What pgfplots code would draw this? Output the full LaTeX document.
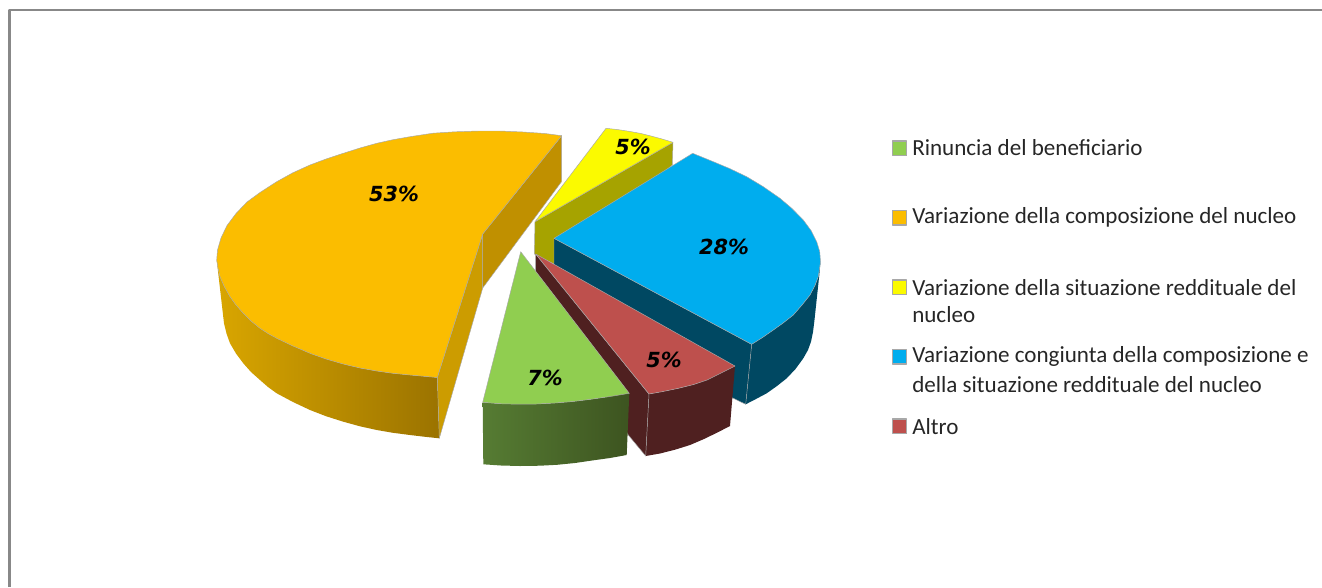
\documentclass[border=0pt]{standalone}
\usepackage{pgfplots}
\pgfplotsset{compat=1.18}
\usepackage{fontspec}
\setmainfont{Carlito}
\newfontfamily\lab{DejaVu Sans}
\definecolor{oT}{HTML}{FBBD00}
\definecolor{oA}{HTML}{CC9C00}
\definecolor{oB}{HTML}{C09000}
\definecolor{oL}{HTML}{D9A600}
\definecolor{oM}{HTML}{BF9000}
\definecolor{oR}{HTML}{9B7300}
\definecolor{yT}{HTML}{FBFA00}
\definecolor{yS}{HTML}{A6A300}
\definecolor{bT}{HTML}{00ADEE}
\definecolor{bS}{HTML}{004862}
\definecolor{rT}{HTML}{BE504D}
\definecolor{rS}{HTML}{4F2020}
\definecolor{gT}{HTML}{90CE50}
\definecolor{gL}{HTML}{567C33}
\definecolor{gR}{HTML}{3D5420}
\definecolor{edge}{HTML}{A8A8A8}
\definecolor{frame}{HTML}{888888}
\begin{document}
\begin{tikzpicture}
\useasboundingbox (0,0) rectangle (991.5pt,440.25pt);
\begin{axis}[
  at={(0,0)},anchor=south west,
  scale only axis,width=991.5pt,height=440.25pt,
  xmin=0,xmax=1322,ymin=0,ymax=587,y dir=reverse,
  hide axis,clip=false,
  every axis plot/.append style={line width=0.35pt,draw=edge,line join=round}]
% frame
\addplot[draw=frame,line width=1.8pt] coordinates {(9.3,587)(9.3,10.2)(1322,10.2)};
% orange side
\addplot[draw=none,left color=oL,middle color=oM,right color=oR] coordinates {
(216.7,260)(218,268)(220,276.7)(224.5,287)(230,296.7)(236,305)(243.3,313.3)(251,321)(260,328.3)(268,333.5)(276.7,338.3)(293,346)(310,353.3)(326,359)(343.3,364)(360,368)(376.7,371)(393,373.3)(410,375)(437.3,377.5)
(439.3,438.3)(425,436.8)(410,435)(393,432.8)(376.7,430)(360,426.3)(343.3,421.7)(326,416.2)(310,410)(293,402)(276.7,393.3)(268,387)(260,380)(251,372)(243.3,363.3)(236,353.5)(230,343.3)(226.5,333.5)(224,323.3)} --cycle;
% orange cut faces
\addplot[fill=oB] coordinates {(482.7,234)(561.7,135.7)(561.5,181.7)(482.7,288)} --cycle;
\addplot[fill=oA] coordinates {(482.7,234)(437.3,377.5)(439.3,438.3)(482.7,288)} --cycle;
% orange top
\addplot[fill=oT] coordinates {(482.7,234)(561.7,135.7)(545,133.5)(523,132)(500,131)(478,131)(455,131.8)(433,133.2)(410,136.7)(393,139.7)(376.7,143.3)(360,148)(343.3,153.3)(326,159)(310,165)(293,172.7)(276.7,181.7)(260,192.5)(247,202)(236,213.5)(227,225.5)(221,238)(217.5,250)(216.7,260)(218,268)(220,276.7)(224.5,287)(230,296.7)(236,305)(243.3,313.3)(251,321)(260,328.3)(268,333.5)(276.7,338.3)(293,346)(310,353.3)(326,359)(343.3,364)(360,368)(376.7,371)(393,373.3)(410,375)(437.3,377.5)} --cycle;
% yellow
\addplot[fill=yS] coordinates {(535,221.7)(673,142.3)(672.3,165)(554,264)(534.3,254)} --cycle;
\addplot[fill=yT] coordinates {(535,221.7)(606,128.3)(617,129.5)(629,131.3)(640,133.3)(651,136)(662,139)(673,142.3)} --cycle;
% blue
\addplot[draw=none,fill=bS] coordinates {(751.7,344.3)(745.7,404.3)(756,399)(766.7,393.3)(777,386)(786.7,378.3)(795.5,369)(803.3,358.3)(808,350)(811,341.7)(813,332)(814.3,321.7)(819.3,275)(820.5,261.7)(818.3,276.5)(815,285.5)(810,295)(802,305)(793.3,315)(783.5,322.7)(773.3,330)(762.5,337.5)} --cycle;
\addplot[fill=bS] coordinates {(554,238.3)(751.7,344.3)(745.7,404.3)(603.3,335)(554,276.7)} --cycle;
\addplot[fill=bT] coordinates {(554,238.3)(692.7,153.3)(713.3,161.7)(730,168.7)(746.7,176.7)(763,186.5)(780,198.3)(792,208.5)(803.3,220)(811,230.5)(816.7,241.7)(819.7,251.5)(820.5,261.7)(818.3,276.5)(815,285.5)(810,295)(802,305)(793.3,315)(783.5,322.7)(773.3,330)(762.5,337.5)(751.7,344.3)} --cycle;
% red
\addplot[draw=none,fill=rS] coordinates {(649,394)(645.7,456)(660,453.5)(675,449.7)(690,445)(704,439)(717,432.7)(730,426)(735,366)(721,373)(707,380)(693.3,384.6)(678,388.4)(662,391.7)} --cycle;
\addplot[fill=rS] coordinates {(535.7,254)(649,394)(645.7,456)(628.3,435)(535.7,271.7)} --cycle;
\addplot[fill=rT] coordinates {(535.7,254)(649,394)(662,391.7)(678,388.4)(693.3,384.6)(707,380)(721,373)(735,366)} --cycle;
% green
\addplot[draw=none,left color=gL,right color=gR] coordinates {(482.7,402.3)(483.3,464.3)(501,465.5)(520,466)(540,465.7)(557,464.8)(575,463)(592,460.5)(610,458)(626.7,455)(629.3,393.3)(610,396.5)(590,399.4)(572,401.6)(555,403)(536.7,404)(518,404.2)(500,403.7)} --cycle;
\addplot[fill=gT] coordinates {(520.7,251.7)(482.7,402.3)(500,403.7)(518,404.2)(536.7,404)(555,403)(572,401.6)(590,399.4)(610,396.5)(629.3,393.3)} --cycle;
% legend swatches
\addplot[fill=gT,draw=edge,line width=0.9pt] coordinates {(892.5,141)(906.5,141)(906.5,155.5)(892.5,155.5)} --cycle;
\addplot[fill=oT,draw=edge,line width=0.9pt] coordinates {(892.5,210.5)(906.5,210.5)(906.5,225)(892.5,225)} --cycle;
\addplot[fill=yT,draw=edge,line width=0.9pt] coordinates {(892.5,280)(906.5,280)(906.5,294.5)(892.5,294.5)} --cycle;
\addplot[fill=bT,draw=edge,line width=0.9pt] coordinates {(892.5,349.5)(906.5,349.5)(906.5,364)(892.5,364)} --cycle;
\addplot[fill=rT,draw=edge,line width=0.9pt] coordinates {(892.5,419)(906.5,419)(906.5,433.5)(892.5,433.5)} --cycle;
% labels
\tikzset{pct/.style={font=\lab\fontsize{15.6}{18}\selectfont\bfseries\itshape,inner sep=0pt},
 lg/.style={font=\fontsize{17.3}{20}\selectfont,anchor=west,inner sep=0pt,text=black!85}}
\node[pct] at (axis cs:394,194) {53\%};
\node[pct] at (axis cs:633,147) {5\%};
\node[pct] at (axis cs:724,247) {28\%};
\node[pct] at (axis cs:545,377.5) {7\%};
\node[pct] at (axis cs:664,359.5) {5\%};
\node[lg] at (axis cs:912,148) {Rinuncia del beneficiario};
\node[lg] at (axis cs:912,217.5) {Variazione della composizione del nucleo};
\node[lg] at (axis cs:912,287.5) {Variazione della situazione reddituale del};
\node[lg] at (axis cs:912,315) {nucleo};
\node[lg] at (axis cs:912,356.5) {Variazione congiunta della composizione e};
\node[lg] at (axis cs:912,384.5) {della situazione reddituale del nucleo};
\node[lg] at (axis cs:912,426.5) {Altro};
\end{axis}
\end{tikzpicture}
\end{document}
